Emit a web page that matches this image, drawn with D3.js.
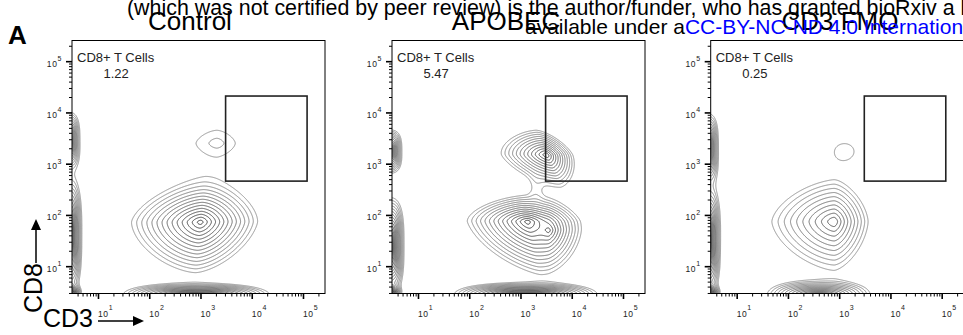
<!DOCTYPE html>
<html>
<head>
<meta charset="utf-8">
<script src="https://cdn.jsdelivr.net/npm/d3@7"></script>
<style>
  body { margin: 0; background: #fff; }
  svg { display: block; font-family: "Liberation Sans", Arial, sans-serif; }
</style>
</head>
<body>
<svg id="fig" width="963" height="335"></svg>
<script>
    // panel titles and the gate readout
    var titles = ["Control", "APOBEC", "CD3 FMO"];
    var gatePct = ["1.22", "5.47", "0.25"];
    var gateName = "CD8+ T Cells";

    // gate corners, log10 units
    var gateX = [3.49, 5.08];
    var gateY = [2.66, 4.32];

    var decades = [1, 2, 3, 4, 5];

    // populations, log10 units:
    // [CD3 centre, CD8 centre, spread left, right, down, up, lean, peak, squareness, falloff]
    var controlPops = [
      [3.00, 1.86, 0.34, 0.28, 0.25, 0.20, 0.10, 0.90, 1.6, 1],
      [3.32, 3.40, 0.86, 0.77, 0.51, 0.55, 0.00, 0.028, 1.6, 1],
      [2.92, 0.40, 0.28, 0.28, 0.05, 0.05, 0.00, 3.0, 2.5, 1],
      [0.40, 3.45, 0.055, 0.055, 0.124, 0.124, 0.00, 1.5, 3, 1],
      [0.40, 1.60, 0.055, 0.055, 0.22, 0.22, 0.00, 3.0, 3, 1],
      [0.50, 0.50, 0.04, 0.04, 0.04, 0.04, 0.00, 1.0, 1.6, 1]
    ];
    var apobecPops = [
      [3.51, 3.17, 0.255, 0.148, 0.177, 0.14, -0.42, 0.56, 1.6, 1],
      [3.14, 1.87, 0.30, 0.245, 0.25, 0.125, -0.23, 0.90, 1.6, 1],
      [3.55, 1.70, 0.15, 0.15, 0.19, 0.15, 0.00, 0.35, 1.6, 1],
      [3.30, 2.50, 0.15, 0.15, 0.35, 0.35, 0.00, 0.010, 2, 2],
      [3.10, 0.40, 0.26, 0.26, 0.05, 0.05, 0.00, 4.0, 2.5, 1],
      [0.42, 3.24, 0.06, 0.06, 0.095, 0.095, 0.00, 1.5, 3, 1],
      [0.42, 1.40, 0.06, 0.06, 0.183, 0.183, 0.00, 3.0, 3, 1],
      [0.50, 0.50, 0.04, 0.04, 0.04, 0.04, 0.00, 1.0, 1.6, 1]
    ];
    var fmoPops = [
      [2.90, 1.87, 0.42, 0.23, 0.325, 0.28, 0.00, 0.32, 1.6, 1],
      [3.11, 3.25, 0.38, 0.38, 0.31, 0.31, 0.00, 0.0205, 2, 2],
      [2.60, 0.40, 0.225, 0.225, 0.068, 0.068, 0.00, 1.5, 2.5, 1],
      [0.40, 3.30, 0.055, 0.055, 0.153, 0.153, 0.00, 1.5, 3, 1],
      [0.40, 1.50, 0.055, 0.055, 0.205, 0.205, 0.00, 3.0, 3, 1],
      [0.50, 0.50, 0.04, 0.04, 0.04, 0.04, 0.00, 1.0, 1.6, 1]
    ];
    var allPops = [controlPops, apobecPops, fmoPops];

    var levels = d3.range(1, 15).map(function(k) { return Math.pow(0.75, k); });

    var svg = d3.select("#fig");
    var panelLeft = [72, 392, 710.7];
    var plotTop = 40.5, plotSize = 253, plotBottom = plotTop + plotSize;

    var shade = d3.scaleLog()
      .domain([levels[levels.length - 1], levels[0]])
      .range(["#8a8a8a", "#2e2e2e"]);

    // density on a log grid
    var step = 0.01, g0 = -0.1, nx = 560, ny = 560;

    function density(pops, lx, ly) {
      var s = 0;
      pops.forEach(function(p) {
        var dy = ly - p[1];
        var dx = lx - p[0] - p[6] * dy;
        var u = Math.abs(dx / (dx < 0 ? p[2] : p[3]));
        var v = Math.abs(dy / (dy < 0 ? p[4] : p[5]));
        var r = Math.pow(Math.pow(u, p[8]) + Math.pow(v, p[8]), 1 / p[8]);
        s += p[7] * Math.exp(-Math.pow(r, p[9]));
      });
      return s;
    }

    function minorTicks(lo, hi) {
      var out = [];
      for (var d = 0; d <= 5; d++) {
        for (var m = 2; m <= 9; m++) {
          var v = d + Math.log10(m);
          if (v > lo && v < hi) out.push(v);
        }
      }
      return out;
    }

    allPops.forEach(function(pops, pi) {
      var left = panelLeft[pi];
      var xs = d3.scaleLinear().domain([0.493, 0.493 + plotSize / 51.25]).range([left, left + plotSize]);
      var ys = d3.scaleLinear().domain([0.467, 0.467 + plotSize / 51.25]).range([plotBottom, plotTop]);

      var g = svg.append("g");
      var clipId = "clip" + pi;
      g.append("clipPath").attr("id", clipId)
        .append("rect")
        .attr("x", left).attr("y", plotTop)
        .attr("width", plotSize).attr("height", plotSize);

      var vals = new Float64Array(nx * ny);
      for (var j = 0; j < ny; j++) {
        for (var i = 0; i < nx; i++) {
          vals[i + j * nx] = density(pops, g0 + (i + 0.5) * step, g0 + (j + 0.5) * step);
        }
      }
      var contours = d3.contours().size([nx, ny]).thresholds(levels)(vals);
      var path = d3.geoPath(d3.geoTransform({
        point: function(x, y) { this.stream.point(xs(g0 + x * step), ys(g0 + y * step)); }
      }));

      g.append("g")
        .attr("clip-path", "url(#" + clipId + ")")
        .selectAll("path")
        .data(contours)
        .enter().append("path")
          .attr("d", path)
          .attr("fill", "none")
          .attr("stroke", function(d) { return shade(d.value); })
          .attr("stroke-width", 0.9);

      // frame
      g.append("rect")
        .attr("x", left).attr("y", plotTop)
        .attr("width", plotSize).attr("height", plotSize)
        .attr("fill", "none").attr("stroke", "#000").attr("stroke-width", 1);

      // gate
      g.append("rect")
        .attr("x", xs(gateX[0])).attr("y", ys(gateY[1]))
        .attr("width", xs(gateX[1]) - xs(gateX[0]))
        .attr("height", ys(gateY[0]) - ys(gateY[1]))
        .attr("fill", "none").attr("stroke", "#222").attr("stroke-width", 1.6);

      // axes
      var xMinor = d3.axisBottom(xs).tickValues(minorTicks(xs.domain()[0], xs.domain()[1])).tickSize(3).tickFormat("");
      var xMajor = d3.axisBottom(xs).tickValues(decades).tickSize(5.5).tickFormat("");
      var yMinor = d3.axisLeft(ys).tickValues(minorTicks(ys.domain()[0], ys.domain()[1])).tickSize(3).tickFormat("");
      var yMajor = d3.axisLeft(ys).tickValues(decades).tickSize(6).tickFormat("");

      [xMinor, xMajor].forEach(function(ax, k) {
        var a = g.append("g").attr("transform", "translate(0," + plotBottom + ")").call(ax);
        a.select(".domain").remove();
        a.selectAll("line").attr("stroke", "#000").attr("stroke-width", k ? 1.6 : 1);
      });
      [yMinor, yMajor].forEach(function(ax, k) {
        var a = g.append("g").attr("transform", "translate(" + left + ",0)").call(ax);
        a.select(".domain").remove();
        a.selectAll("line").attr("stroke", "#000").attr("stroke-width", k ? 1.6 : 1);
      });

      decades.forEach(function(d) {
        var t = g.append("text")
          .attr("x", xs(d)).attr("y", plotBottom + 23)
          .attr("font-size", 8.5).attr("letter-spacing", 0.6).attr("fill", "#222")
          .text("10");
        t.append("tspan").attr("dy", -6.5).attr("font-size", 7).text(d);

        var u = g.append("text")
          .attr("x", left - 10).attr("y", ys(d) + 5.5)
          .attr("text-anchor", "end")
          .attr("font-size", 8.5).attr("letter-spacing", 0.6).attr("fill", "#222")
          .text("10");
        u.append("tspan").attr("dy", -5.5).attr("font-size", 7).text(d);
      });

      g.append("text")
        .attr("x", left + 5).attr("y", 61.5)
        .attr("font-size", 13).attr("fill", "#222")
        .text(gateName);
      g.append("text")
        .attr("x", left + 31.5).attr("y", 78)
        .attr("font-size", 13).attr("fill", "#222")
        .text(gatePct[pi]);
    });

    var titleX = [190, 506, 840];
    titles.forEach(function(t, i) {
      svg.append("text")
        .attr("x", titleX[i]).attr("y", 29.5)
        .attr("text-anchor", "middle")
        .attr("font-size", 26)
        .text(t);
    });

    // panel letter and axis names
    svg.append("text").attr("x", 8).attr("y", 43.5)
      .attr("font-size", 26).attr("font-weight", "bold").text("A");

    svg.append("text")
      .attr("transform", "translate(42,313) rotate(-90)")
      .attr("font-size", 25).text("CD8");
    svg.append("line").attr("x1", 36).attr("y1", 263).attr("x2", 36).attr("y2", 228)
      .attr("stroke", "#000").attr("stroke-width", 1.5);
    svg.append("path").attr("d", "M31,230L41,230L36,219Z").attr("fill", "#000");

    svg.append("text").attr("x", 43).attr("y", 326.5)
      .attr("font-size", 25).text("CD3");
    svg.append("line").attr("x1", 98).attr("y1", 321).attr("x2", 134).attr("y2", 321)
      .attr("stroke", "#000").attr("stroke-width", 1.5);
    svg.append("path").attr("d", "M133,316L133,326L144,321Z").attr("fill", "#000");

    // preprint stamp over the figure
    var stamp1 = "(which was not certified by peer review) is the author/funder, who has granted bioRxiv a license to display the preprint in perpetuity. It is made";
    var stamp2 = "available under a";
    var stamp3 = "CC-BY-NC-ND 4.0 International license";
    svg.append("text").attr("x", 127).attr("y", 15)
      .attr("font-size", 21.4).attr("fill", "#000").text(stamp1);
    var s2 = svg.append("text").attr("x", 525).attr("y", 34)
      .attr("font-size", 21).attr("fill", "#000").text(stamp2);
    s2.append("tspan").attr("fill", "#0000ff").text(stamp3);
</script>
</body>
</html>
